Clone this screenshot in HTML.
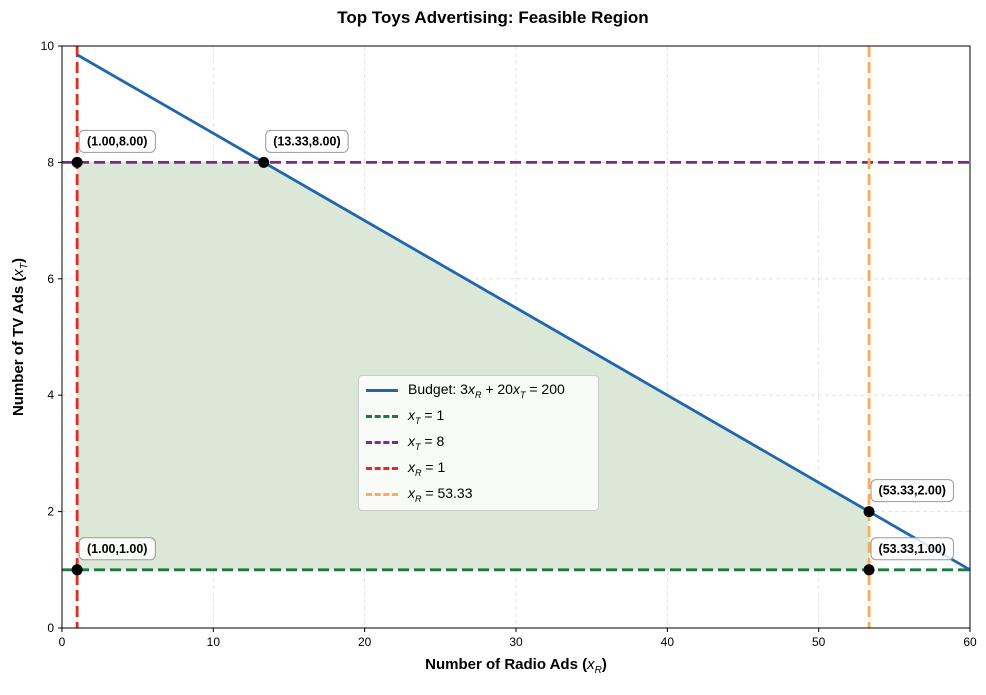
<!DOCTYPE html>
<html><head><meta charset="utf-8"><style>
body{margin:0;background:#fff;font-family:"Liberation Sans",sans-serif}
text{font-family:"Liberation Sans",sans-serif}
</style></head><body>
<svg id="chart" width="986" height="690" xmlns="http://www.w3.org/2000/svg"></svg>
<script>
const xTicks=[0,10,20,30,40,50,60];
const yTicks=[0,2,4,6,8,10];
const regionX=[1,1,13.33,53.33,53.33];
const regionY=[1,8,8,2,1];
const budgetX=[1,60];
const budgetY=[9.85,1];
const pointLabels=["(1.00,8.00)","(13.33,8.00)","(53.33,2.00)","(53.33,1.00)","(1.00,1.00)"];
const pointX=[1,13.33,53.33,53.33,1];
const pointY=[8,8,2,1,1];
const xT1=1, xT8=8, xR1=1, xR53=53.33;

const L=62,R=970,T=46,B=628;
const sx=v=>L+(v-0)/60*(R-L);
const sy=v=>B-(v-0)/10*(B-T);
const svg=document.getElementById('chart');
const NS='http://www.w3.org/2000/svg';
function mk(tag,attrs,parent){const e=document.createElementNS(NS,tag);for(const k in attrs)e.setAttribute(k,attrs[k]);(parent||svg).appendChild(e);return e;}

xTicks.forEach(t=>{const g=mk('line',{x1:sx(t),x2:sx(t),y1:T,y2:B,stroke:'#ddd','stroke-dasharray':'4,3','stroke-width':0.8});

});
yTicks.forEach(t=>{const g=mk('line',{x1:L,x2:R,y1:sy(t),y2:sy(t),stroke:'#ddd','stroke-dasharray':'4,3','stroke-width':0.8});

});

const poly=mk('polygon',{points:regionX.map((x,i)=>sx(x)+','+sy(regionY[i])).join(' '),fill:'#dbe8d8'});



function hline(v,c,name){const l=mk('line',{x1:L,x2:R,y1:sy(v),y2:sy(v),stroke:c,'stroke-width':2.8,'stroke-dasharray':'11,5'});

}
function vline(v,c,name){const l=mk('line',{x1:sx(v),x2:sx(v),y1:T,y2:B,stroke:c,'stroke-width':2.8,'stroke-dasharray':'11,5'});

}
hline(xT1,'#1b7a3e','xt-1-line');
hline(xT8,'#7b2a8a','xt-8-line');
vline(xR1,'#e32a22','xr-1-line');
vline(xR53,'#ffaa55','xr-53-line');
const bl=mk('polyline',{points:budgetX.map((x,i)=>sx(x)+','+sy(budgetY[i])).join(' '),stroke:'#2166ac','stroke-width':2.8,fill:'none'});



pointX.forEach((x,i)=>{
 const c=mk('circle',{cx:sx(x),cy:sy(pointY[i]),r:5.5,fill:'#000'});
 
 
 const tx=sx(x)+2, ty=sy(pointY[i])-32;
 const w=pointLabels[i].length*6.2+8;
 const r=mk('rect',{x:tx,y:ty,width:w,height:22,rx:5,fill:'#fff','fill-opacity':0.85,stroke:'#999','stroke-width':1});
 
 
 const t=mk('text',{x:tx+w/2,y:ty+15,'text-anchor':'middle','font-size':12.5,'font-weight':'bold'});
 t.textContent=pointLabels[i];
 
 
});

const fr=mk('rect',{x:L,y:T,width:R-L,height:B-T,fill:'none',stroke:'#000','stroke-width':1});


xTicks.forEach(t=>{mk('line',{x1:sx(t),x2:sx(t),y1:B,y2:B+4,stroke:'#000'});
 const tx=mk('text',{x:sx(t),y:B+18,'text-anchor':'middle','font-size':12});tx.textContent=t;
 
 });
yTicks.forEach(t=>{mk('line',{x1:L-4,x2:L,y1:sy(t),y2:sy(t),stroke:'#000'});
 const tx=mk('text',{x:L-8,y:sy(t)+4,'text-anchor':'end','font-size':12});tx.textContent=t;
 
 });
</script>
<div style="position:absolute;left:0;top:8px;width:986px;text-align:center;font-weight:bold;font-size:17px">Top Toys Advertising: Feasible Region</div>
<div style="position:absolute;left:62px;top:656px;width:908px;text-align:center;font-weight:bold;font-size:15px;white-space:nowrap">Number of Radio Ads (<i style="font-weight:normal">x<sub style="font-size:10px">R</sub></i>)</div>
<div style="position:absolute;left:-90px;top:327px;width:220px;text-align:center;font-weight:bold;font-size:15px;white-space:nowrap;transform:rotate(-90deg)">Number of TV Ads (<i style="font-weight:normal">x<sub style="font-size:10px">T</sub></i>)</div>
<div style="position:absolute;left:358px;top:375px;width:239px;height:134px;background:rgba(255,255,255,0.8);border:1px solid #ccc;border-radius:4px;font-size:14px">
 <div style="position:absolute;left:7px;top:5px;white-space:nowrap"><span style="display:inline-block;width:32px;border-top:3px solid #2166ac;vertical-align:middle;margin-right:10px"></span>Budget: 3<i>x<sub style="font-size:9px">R</sub></i> + 20<i>x<sub style="font-size:9px">T</sub></i> = 200</div>
 <div style="position:absolute;left:7px;top:31px"><span style="display:inline-block;width:32px;border-top:3px dashed #1b7a3e;vertical-align:middle;margin-right:10px"></span><i>x<sub style="font-size:9px">T</sub></i> = 1</div>
 <div style="position:absolute;left:7px;top:57px"><span style="display:inline-block;width:32px;border-top:3px dashed #7b2a8a;vertical-align:middle;margin-right:10px"></span><i>x<sub style="font-size:9px">T</sub></i> = 8</div>
 <div style="position:absolute;left:7px;top:83px"><span style="display:inline-block;width:32px;border-top:3px dashed #e32a22;vertical-align:middle;margin-right:10px"></span><i>x<sub style="font-size:9px">R</sub></i> = 1</div>
 <div style="position:absolute;left:7px;top:109px"><span style="display:inline-block;width:32px;border-top:3px dashed #ffaa55;vertical-align:middle;margin-right:10px"></span><i>x<sub style="font-size:9px">R</sub></i> = 53.33</div>
</div>
</body></html>
